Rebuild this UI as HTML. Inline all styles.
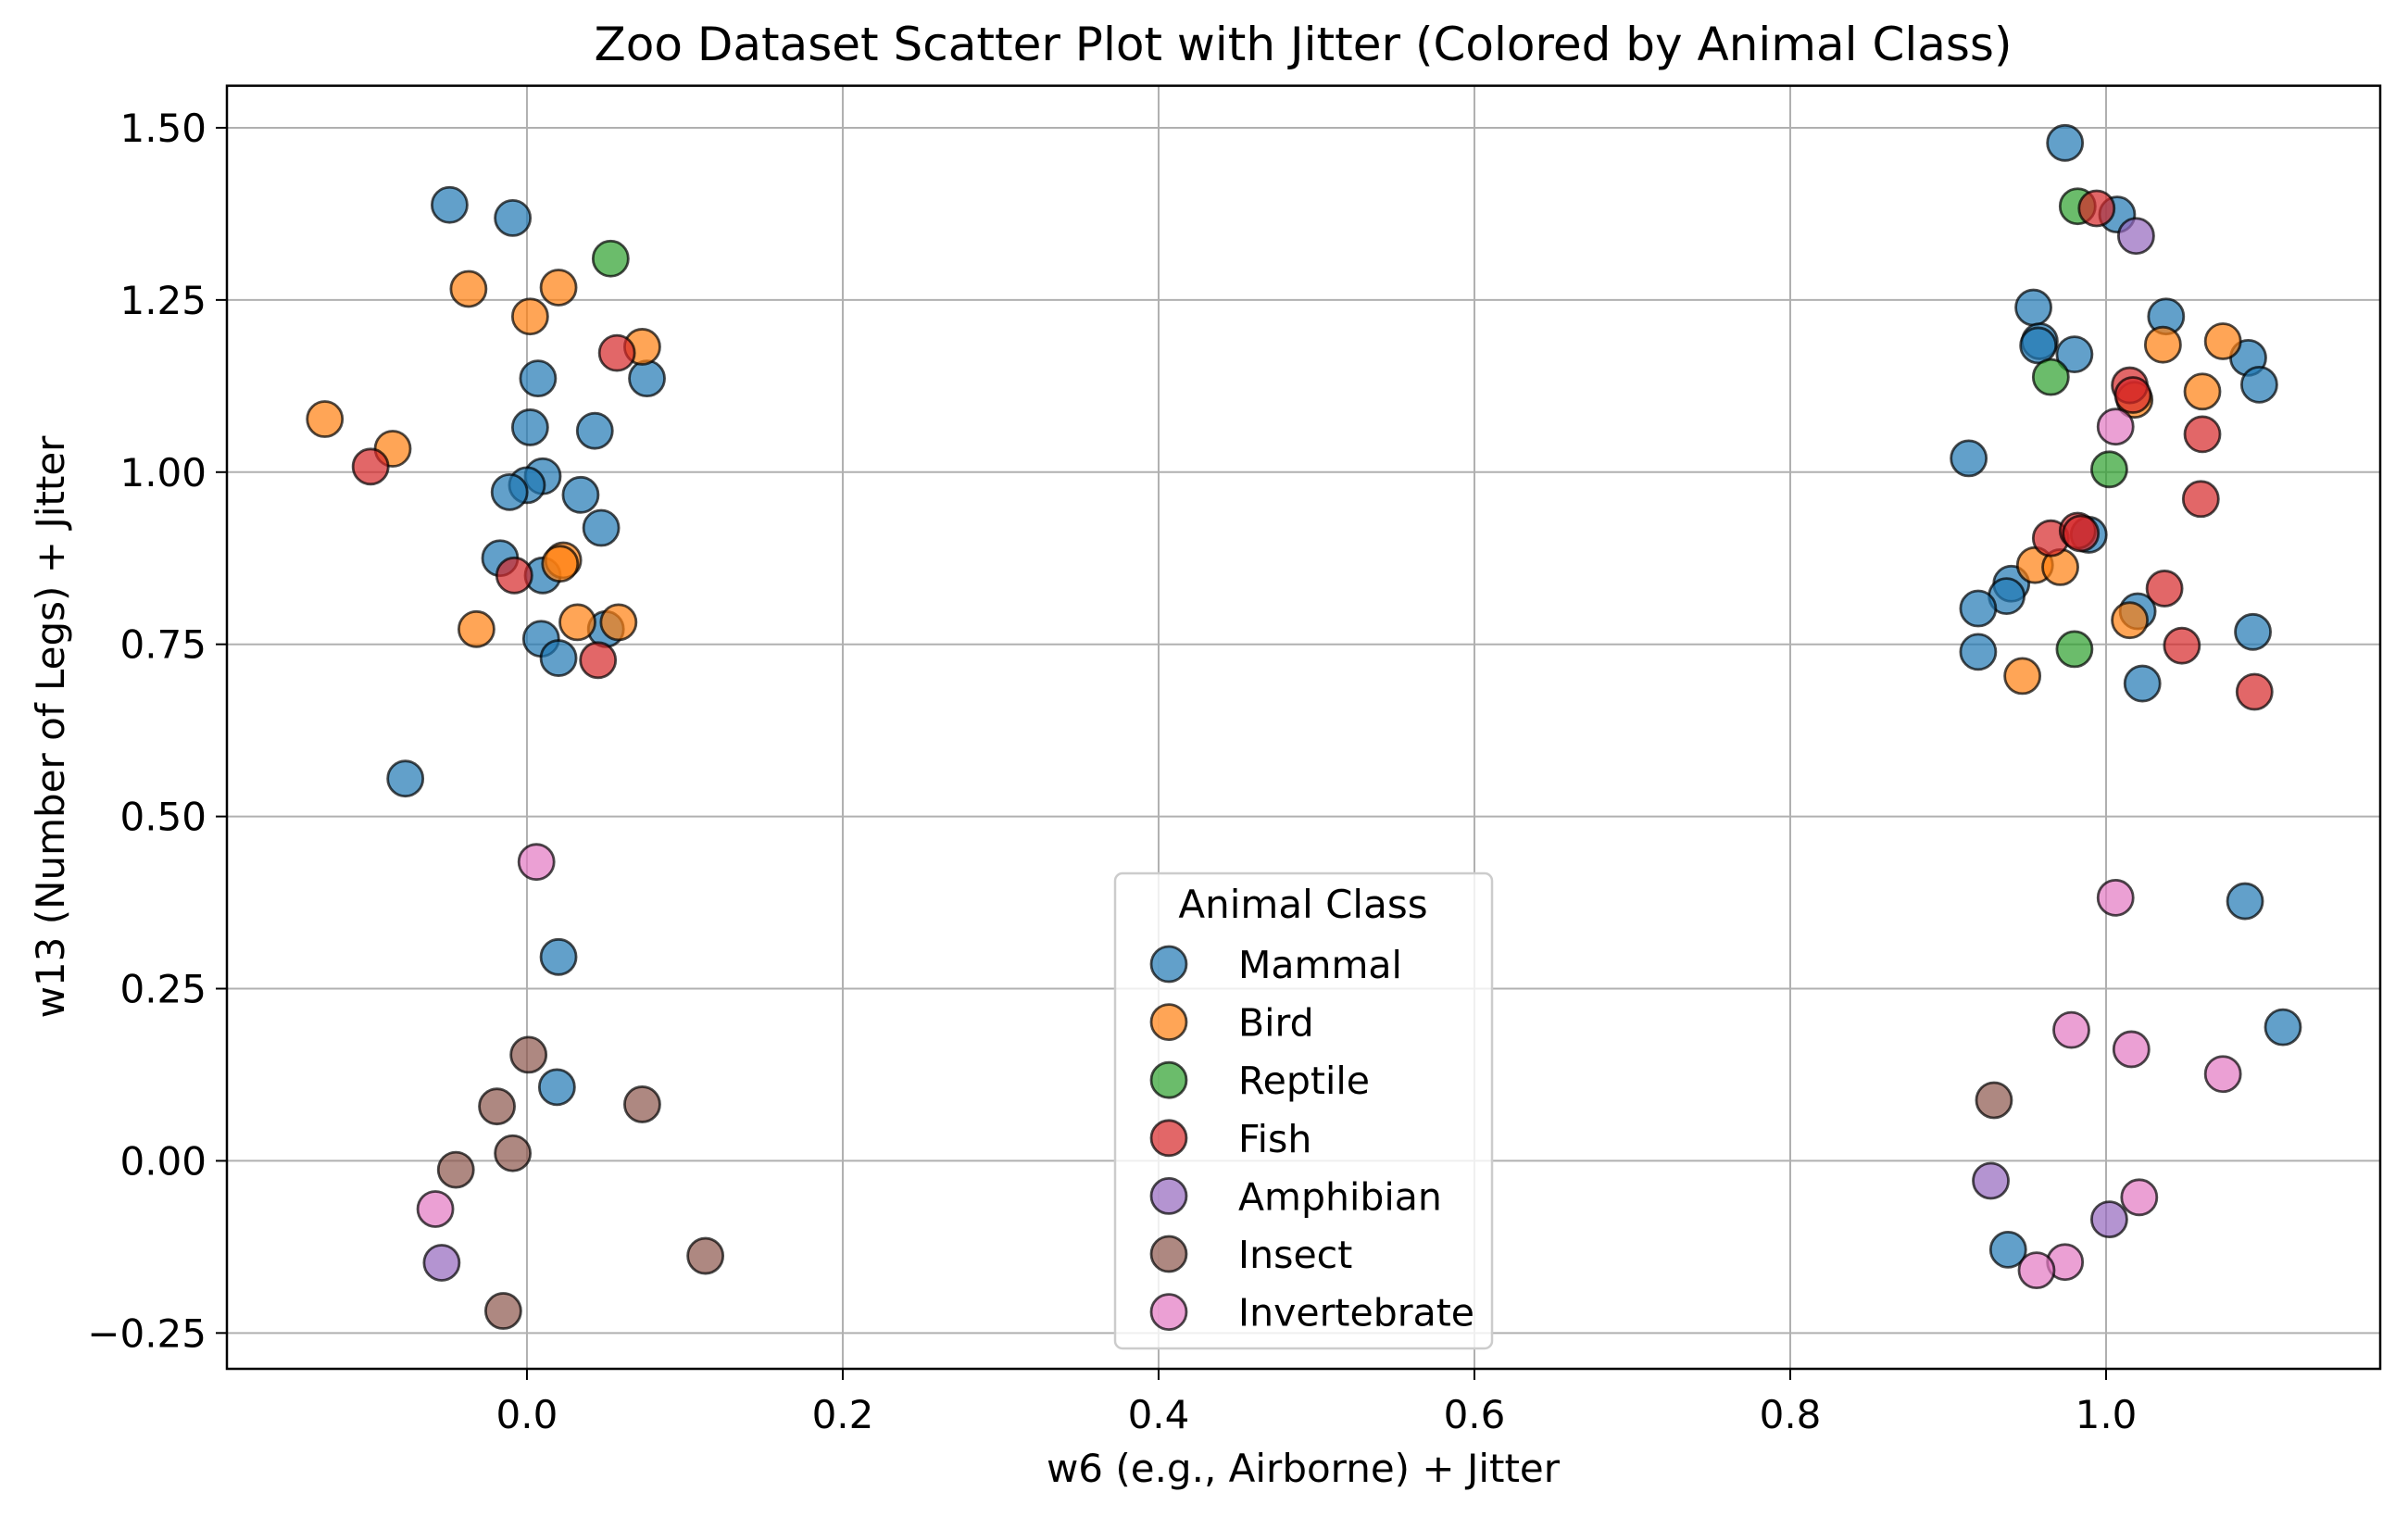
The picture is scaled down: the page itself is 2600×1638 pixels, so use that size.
<!DOCTYPE html>
<html><head><meta charset="utf-8"><style>
html,body{margin:0;padding:0;background:#fff}
svg{display:block}
text{font-family:"DejaVu Sans","Liberation Sans",sans-serif;fill:#000}
</style></head><body>
<svg id="chart" width="2600" height="1638" viewBox="0 0 2600 1638" xmlns="http://www.w3.org/2000/svg">
<rect width="2600" height="1638" fill="#fff"/>
<text x="1407" y="65" font-size="50" text-anchor="middle">Zoo Dataset Scatter Plot with Jitter (Colored by Animal Class)</text>
<g id="grid"></g>
<g id="ticks"></g>
<g id="points"></g>
<rect x="245" y="92.6" width="2325" height="1385.4" fill="none" stroke="#000" stroke-width="2.5"/>
<text x="1407" y="1600" font-size="42" text-anchor="middle">w6 (e.g., Airborne) + Jitter</text>
<text transform="translate(69,785) rotate(-90)" font-size="42" text-anchor="middle">w13 (Number of Legs) + Jitter</text>
<g id="legend"></g>
</svg>
<script>
const classes=["Mammal","Bird","Reptile","Fish","Amphibian","Insect","Invertebrate"];
const colors=["#1f77b4","#ff7f0e","#2ca02c","#d62728","#9467bd","#8c564b","#e377c2"];
const xTicks=[0.0,0.2,0.4,0.6,0.8,1.0];
const xTickLabels=["0.0","0.2","0.4","0.6","0.8","1.0"];
const yTicks=[-0.25,0,0.25,0.5,0.75,1.0,1.25,1.5];
const yTickLabels=["\u22120.25","0.00","0.25","0.50","0.75","1.00","1.25","1.50"];
const mammalX=[-0.049,-0.009,0.007,0.002,0.043,0.010,0.000,-0.011,0.034,0.047,-0.017,0.010,0.009,0.020,0.050,0.076,-0.077,0.020,0.019,0.974,1.007,0.954,0.958,0.957,0.980,1.038,1.090,1.097,0.913,0.989,0.940,0.937,0.919,1.020,0.919,1.023,1.093,1.088,1.112,0.938];
const mammalY=[1.388,1.369,1.136,1.065,1.060,0.994,0.981,0.971,0.967,0.919,0.875,0.850,0.758,0.730,0.772,1.136,0.555,0.296,0.107,1.478,1.374,1.239,1.190,1.184,1.171,1.226,1.166,1.127,1.020,0.909,0.838,0.820,0.802,0.798,0.739,0.693,0.768,0.377,0.194,-0.129];
const birdX=[-0.128,-0.085,-0.037,0.020,0.002,0.073,0.023,0.021,-0.032,0.032,0.058,1.036,1.074,1.061,1.018,0.955,0.971,1.015,0.947];
const birdY=[1.077,1.034,1.266,1.268,1.226,1.182,0.872,0.867,0.772,0.782,0.782,1.185,1.190,1.117,1.105,0.865,0.862,0.785,0.704];
const reptileX=[0.053,0.982,0.965,1.002,0.980];
const reptileY=[1.310,1.386,1.138,1.004,0.743];
const fishX=[-0.099,0.057,-0.008,0.045,0.994,1.015,1.017,1.061,1.060,0.965,0.982,0.984,1.037,1.048,1.094];
const fishY=[1.008,1.173,0.850,0.727,1.383,1.126,1.112,1.055,0.961,0.904,0.915,0.911,0.831,0.748,0.681];
const amphibianX=[-0.054,1.019,0.927,1.002];
const amphibianY=[-0.148,1.343,-0.029,-0.085];
const insectX=[0.001,-0.019,0.073,-0.009,-0.045,0.113,-0.015,0.929];
const insectY=[0.154,0.079,0.082,0.011,-0.013,-0.138,-0.218,0.088];
const invertX=[0.006,-0.058,1.006,1.006,0.978,1.016,1.074,1.021,0.974,0.956];
const invertY=[0.434,-0.070,1.066,0.382,0.190,0.162,0.126,-0.053,-0.147,-0.159];
const seriesX=[mammalX,birdX,reptileX,fishX,amphibianX,insectX,invertX];
const seriesY=[mammalY,birdY,reptileY,fishY,amphibianY,insectY,invertY];

const NS="http://www.w3.org/2000/svg";
const L=245,R=2570,T=92.6,B=1478;
const xMin=-0.190,xMax=1.1736,yMin=-0.302,yMax=1.561;
function sx(v){return L+(v-xMin)/(xMax-xMin)*(R-L);}
function sy(v){return B-(v-yMin)/(yMax-yMin)*(B-T);}
function mk(tag,attrs,parent){const e=document.createElementNS(NS,tag);for(const k in attrs)e.setAttribute(k,attrs[k]);parent.appendChild(e);return e;}
const grid=document.getElementById('grid'),ticks=document.getElementById('ticks');
xTicks.forEach((v,i)=>{
  const g=mk('line',{x1:sx(v),x2:sx(v),y1:T,y2:B,stroke:'#b0b0b0','stroke-width':2},grid);
  
  
  const t=mk('line',{x1:sx(v),x2:sx(v),y1:B,y2:B+12,stroke:'#000','stroke-width':2},ticks);
  
  
  const lb=mk('text',{x:sx(v),y:B+64,'font-size':42,'text-anchor':'middle'},ticks);
  lb.textContent=xTickLabels[i];
  
  
});
yTicks.forEach((v,i)=>{
  const g=mk('line',{x1:L,x2:R,y1:sy(v),y2:sy(v),stroke:'#b0b0b0','stroke-width':2},grid);
  
  
  const t=mk('line',{x1:L-12,x2:L,y1:sy(v),y2:sy(v),stroke:'#000','stroke-width':2},ticks);
  
  
  const lb=mk('text',{x:L-22,y:sy(v)+15,'font-size':42,'text-anchor':'end'},ticks);
  lb.textContent=yTickLabels[i];
  
  
});
const pts=document.getElementById('points');
classes.forEach((c,ci)=>{
  seriesX[ci].forEach((xv,j)=>{
    const p=mk('circle',{cx:sx(xv),cy:sy(seriesY[ci][j]),r:19,fill:colors[ci],'fill-opacity':0.7,stroke:'#000','stroke-opacity':0.7,'stroke-width':2.8},pts);
    
    
  });
});
const lg=document.getElementById('legend');
const box=mk('rect',{x:1204,y:943,width:407,height:513,rx:8,fill:'#fff','fill-opacity':0.8,stroke:'#cccccc','stroke-width':2.5},lg);


const lt=mk('text',{x:1407,y:991,'font-size':42,'text-anchor':'middle'},lg);
lt.textContent='Animal Class';


classes.forEach((c,ci)=>{
  const y=1041+ci*62.6;
  const m=mk('circle',{cx:1262,cy:y,r:19,fill:colors[ci],'fill-opacity':0.7,stroke:'#000','stroke-opacity':0.7,'stroke-width':2.8},lg);
  
  
  const t=mk('text',{x:1337,y:y+15,'font-size':41},lg);
  t.textContent=c;
  
  
});
</script>
</body></html>
